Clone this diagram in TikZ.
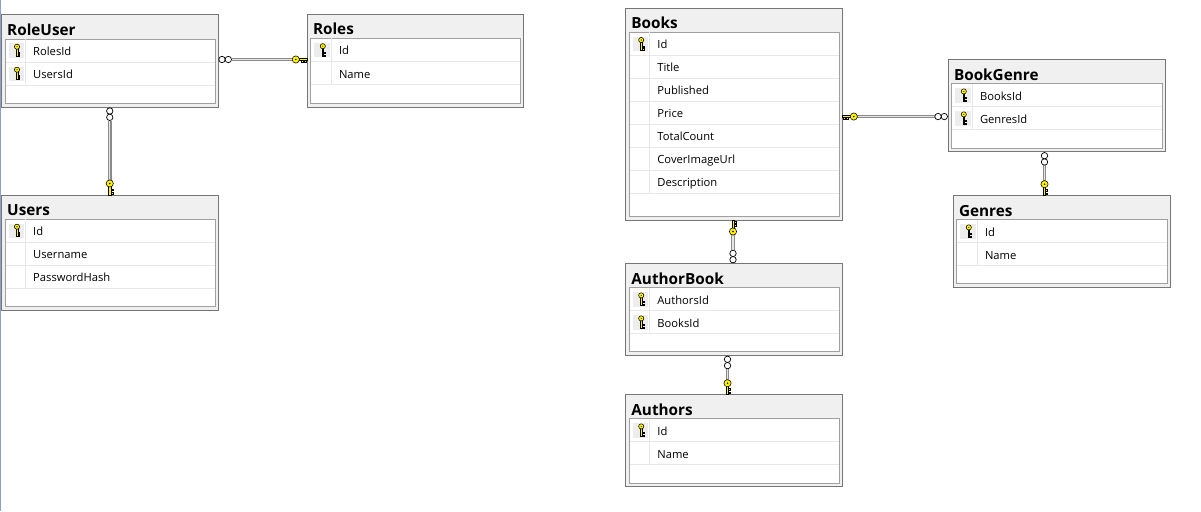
\documentclass[tikz,border=0pt]{standalone}
\usepackage{fontspec}
\setmainfont{Open Sans}
\usetikzlibrary{calc}
\definecolor{outerc}{HTML}{767676}
\definecolor{titlebg}{HTML}{F0F0F0}
\definecolor{innerc}{HTML}{A0A0A0}
\definecolor{sepc}{HTML}{E8E8E8}
\definecolor{keybgc}{HTML}{EDEDED}
\definecolor{keyy}{HTML}{FFF200}
\definecolor{railout}{HTML}{8A8A8A}
\definecolor{railin}{HTML}{E6E6E6}
\definecolor{leftc}{HTML}{8FA0CC}
\tikzset{
  tblouter/.style={draw=outerc, fill=titlebg, line width=1pt, outer sep=0pt, inner sep=0pt},
  tblinner/.style={draw=innerc, fill=white, line width=0.9pt},
  tbltitle/.style={inner sep=0pt, font=\fontsize{15.3}{18}\selectfont\bfseries, text=black},
  rowtext/.style={inner sep=0pt, font=\fontsize{11.2}{13}\selectfont, text=black},
  rowsep/.style={draw=sepc, line width=0.9pt},
  keybg/.style={fill=keybgc},
  keyline/.style={draw=black, fill=keyy, line width=0.55pt},
  infline/.style={draw=black, fill=white, line width=0.7pt},
  rail/.style={draw=railout, double=railin, double distance=1.4pt, line width=1.1pt},
  awayL/.style={},
  awayR/.style={xscale=-1},
  awayU/.style={cm={0,-1,-1,0,(0,0)}},
  awayD/.style={rotate=90},
  pics/rowkey/.style={code={
    \draw[keyline] (-0.9,-3) rectangle (0.9,6.2);
    \draw[keyline] (0.9,2.2) rectangle (2.7,3.5);
    \draw[keyline] (0.9,4.8) rectangle (2.7,6.2);
    \draw[keyline] (0,-3.8) circle[radius=2.6];
    \fill[black] (0,-3.8) circle[radius=0.55];
  }},
  pics/fkey/.style={code={
    \draw[keyline] (-9,-1.1) rectangle (0,1.1);
    \draw[keyline] (-6,1.1) rectangle (-4.3,3.2);
    \draw[keyline] (-2.8,1.1) rectangle (-1,3.2);
    \draw[keyline] (-11.5,0) circle[radius=3.6];
    \fill[black] (-11.5,0) circle[radius=0.8];
  }},
  pics/finf/.style={code={
    \draw[infline] (-4,0) circle[radius=3.2];
    \draw[infline] (-10.3,0) circle[radius=3.2];
  }},
}
\newcommand{\erTable}[7]{%
  \node[tblouter, minimum width=#4pt, minimum height=#5pt, anchor=north west] (#1) at (#2,#3) {};
  \draw[tblinner] (#2+3.5,#3+24) rectangle (#2+#4-3,#3+#5-3.5);
  \node[tbltitle, anchor=base west] (#1-title) at (#2+5.5,#3+20.5) {#6};
  \foreach \k/\t [count=\i from 0] in {#7}{
    \pgfmathsetmacro\rt{#3+24+23*\i}
    \draw[rowsep] (#2+4,\rt+23) -- (#2+#4-3.5,\rt+23);
    \draw[rowsep] (#2+24,\rt) -- (#2+24,\rt+23);
    \ifnum\k=1
      \fill[keybg] (#2+7,\rt+4.5) rectangle (#2+22.5,\rt+19);
      \pic at (#2+15.5,\rt+11.5) {rowkey};
    \fi
    \node[rowtext, anchor=base west] (#1-\i) at (#2+31.5,\rt+16.5) {\t};
  }%
}
\begin{document}
\begin{tikzpicture}[x=1pt,y=-1pt]
\useasboundingbox (0,0) rectangle (1201,511);
\fill[white] (0,0) rectangle (1201,511);
\draw[leftc, line width=1pt] (0.5,0) -- (0.5,511);

\erTable{RoleUser}{1.5}{15}{216.5}{92}{RoleUser}{1/RolesId,1/UsersId}
\erTable{Roles}{307.3}{14.5}{215.7}{92.5}{Roles}{1/Id,0/Name}
\erTable{Users}{1.5}{195}{216.5}{115}{Users}{1/Id,0/Username,0/PasswordHash}
\erTable{Books}{625.7}{8.3}{216.6}{211.7}{Books}{1/Id,0/Title,0/Published,0/Price,0/TotalCount,0/CoverImageUrl,0/Description}
\erTable{BookGenre}{948.3}{59.7}{217.4}{92}{BookGenre}{1/BooksId,1/GenresId}
\erTable{Genres}{953.3}{195.7}{217.4}{91.6}{Genres}{1/Id,0/Name}
\erTable{AuthorBook}{625.7}{263.7}{216.6}{91.6}{AuthorBook}{1/AuthorsId,1/BooksId}
\erTable{Authors}{625.7}{394.7}{216.6}{92}{Authors}{1/Id,0/Name}

% RoleUser -- Roles
\coordinate (c1a) at ([yshift=1.5pt]RoleUser.east);
\coordinate (c1b) at (Roles.west |- c1a);
\draw[rail] ($(c1a)+(13.5,0)$) -- ($(c1b)+(-15,0)$);
\pic[awayR] at (c1a) {finf};
\pic[awayL] at (c1b) {fkey};

% RoleUser -- Users
\coordinate (c2a) at (RoleUser.south);
\coordinate (c2b) at (Users.north);
\draw[rail] ($(c2a)+(0,13.5)$) -- ($(c2b)+(0,-15)$);
\pic[awayD] at (c2a) {finf};
\pic[awayU] at (c2b) {fkey};

% Books -- BookGenre
\coordinate (c3a) at ([yshift=-2.4pt]Books.east);
\coordinate (c3b) at (BookGenre.west |- c3a);
\draw[rail] ($(c3a)+(15,0)$) -- ($(c3b)+(-13.5,0)$);
\pic[awayR] at (c3a) {fkey};
\pic[awayL] at (c3b) {finf};

% Books -- AuthorBook
\coordinate (c4a) at ([xshift=-1pt]Books.south);
\coordinate (c4b) at (AuthorBook.north -| c4a);
\draw[rail] ($(c4a)+(0,15)$) -- ($(c4b)+(0,-13.5)$);
\pic[awayD] at (c4a) {fkey};
\pic[awayU] at (c4b) {finf};

% AuthorBook -- Authors
\coordinate (c5a) at ([xshift=-6.5pt]AuthorBook.south);
\coordinate (c5b) at (Authors.north -| c5a);
\draw[rail] ($(c5a)+(0,13.5)$) -- ($(c5b)+(0,-15)$);
\pic[awayD] at (c5a) {finf};
\pic[awayU] at (c5b) {fkey};

% BookGenre -- Genres
\coordinate (c6a) at ([xshift=-12.5pt]BookGenre.south);
\coordinate (c6b) at (Genres.north -| c6a);
\draw[rail] ($(c6a)+(0,13.5)$) -- ($(c6b)+(0,-15)$);
\pic[awayD] at (c6a) {finf};
\pic[awayU] at (c6b) {fkey};
\end{tikzpicture}
\end{document}
